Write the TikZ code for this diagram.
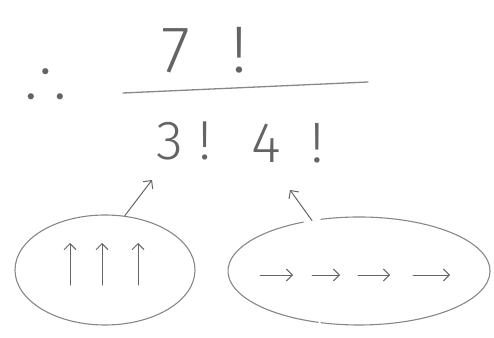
\documentclass[tikz,border=0pt]{standalone}
\usepackage{fontspec}
\usepackage{amssymb}
\usetikzlibrary{shapes.geometric,arrows.meta}
\newfontfamily\handfont{Fira Sans Light}
\definecolor{pencil}{RGB}{100,100,100}
\definecolor{pencillight}{RGB}{135,135,135}
\begin{document}
\begin{tikzpicture}[x=1pt,y=1pt,
  txt/.style={text=pencil, inner sep=0pt, anchor=base west, font=\handfont\fontsize{#1}{#1}\selectfont},
  loopshape/.style={ellipse, inner sep=0pt, minimum width=#1},
  loopline/.style={draw=pencillight, line width=1.1pt},
  pen/.style={draw=pencil, line width=1pt, line cap=round},
  penarrow/.style={pen, -{Straight Barb[length=6pt,width=12pt]}}
]
\useasboundingbox (0,0) rectangle (494,337);

% therefore sign
\node[text=pencil, inner sep=0pt] (thf) at (46,262) {\fontsize{58}{58}\selectfont$\therefore$};

% fraction
\node[txt=66] (num) at (161,264) {7\hspace{41pt}!};
\draw[pen, draw=pencillight, line width=1.3pt] (123,244) -- (368,255);
\node[txt=55] (d3) at (156,177) {3\hspace{16pt}!};
\node[txt=57] (d4) at (251,174) {4\hspace{30pt}!};

% groups
\node[loopshape=180pt, minimum height=110pt, loopline] (L) at (105,67) {};
\node[loopshape=262pt, minimum height=108pt] (R) at (359,66) {};
\draw[loopline] ([shift={(107:131 and 54)}]R.center) arc[start angle=107, end angle=-107, x radius=131, y radius=54];
\draw[loopline] ([shift={(115:131 and 54)}]R.center) arc[start angle=115, end angle=252, x radius=131, y radius=54];

% arrows inside groups
\foreach \x in {70,102,138} \draw[penarrow] (\x,52) -- (\x,94);
\foreach \a/\b in {260/293,312/340,358/390,413/450} \draw[penarrow] (\a,62) -- (\b,62);

% connectors
\coordinate (t3) at (152,157);
\coordinate (t4) at (290,147);
\coordinate (gapR) at ([shift={(111:131 and 54)}]R.center);
\draw[penarrow] (L.70) -- (t3);
\draw[penarrow] (gapR) -- (t4);
\end{tikzpicture}
\end{document}
